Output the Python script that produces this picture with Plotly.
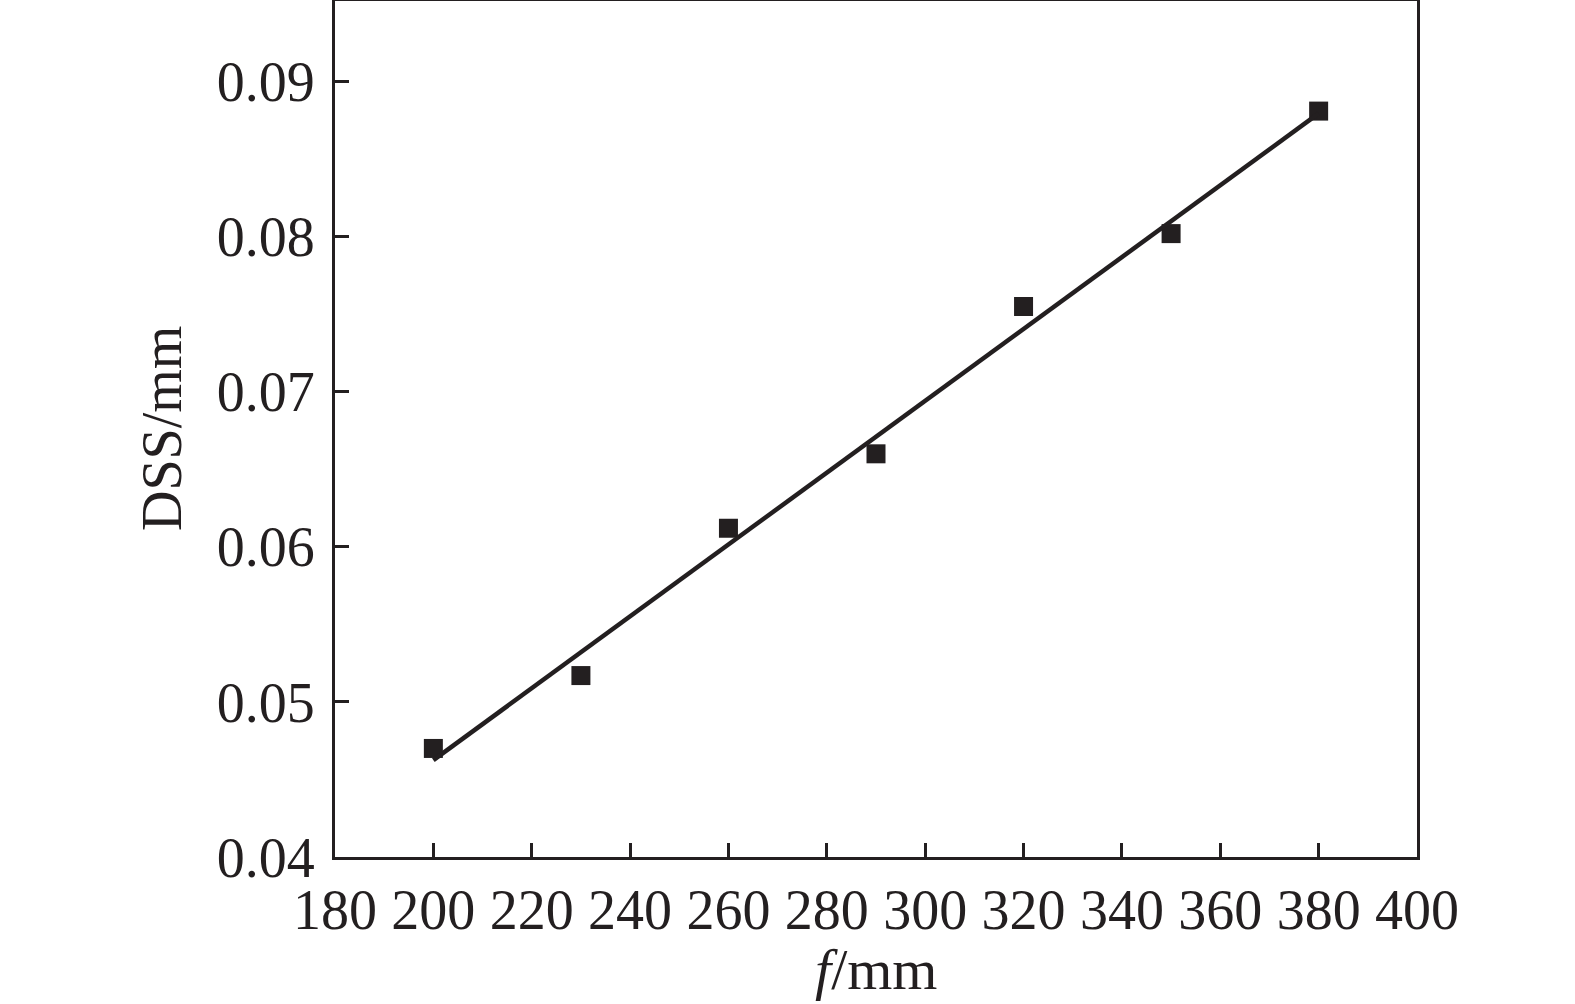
import numpy as np
import plotly.graph_objects as go

f_mm = [200, 230, 260, 290, 320, 350, 380]
dss_mm = [0.0470, 0.0517, 0.0612, 0.0660, 0.0755, 0.0802, 0.0881]

x_ticks = [180, 200, 220, 240, 260, 280, 300, 320, 340, 360, 380, 400]
y_ticks = [0.04, 0.05, 0.06, 0.07, 0.08, 0.09]
y_tick_labels = ["0.04", "0.05", "0.06", "0.07", "0.08", "0.09"]
x_title = "<i>f</i>/mm"
y_title = "DSS/mm"

slope, intercept = np.polyfit(f_mm, dss_mm, 1)
fit_x = [f_mm[0], f_mm[-1]]
fit_y = [slope * v + intercept for v in fit_x]

ink = "#231f20"
font = "Liberation Serif, Times New Roman, serif"

fig = go.Figure()
fig.add_trace(go.Scatter(x=f_mm, y=dss_mm, mode="markers",
                         marker=dict(symbol="square", size=19, color=ink,
                                     line=dict(width=0)),
                         showlegend=False))
fig.add_trace(go.Scatter(x=fit_x, y=fit_y, mode="lines",
                         line=dict(color=ink, width=4.5), showlegend=False))

fig.update_layout(
    width=1575, height=1004,
    margin=dict(l=335, r=158, t=1, b=147, autoexpand=False),
    paper_bgcolor="white", plot_bgcolor="white",
    font=dict(family=font, size=56, color=ink),
    xaxis=dict(range=[180, 400], tickvals=x_ticks, ticks="inside", ticklen=14,
               tickwidth=3, tickcolor=ink, showline=True, linewidth=3,
               linecolor=ink, mirror=True, showgrid=False, zeroline=False,
               automargin=False, ticklabelstandoff=2),
    yaxis=dict(range=[0.04, 0.0952], tickvals=y_ticks, ticktext=y_tick_labels,
               ticks="inside", ticklen=14, tickwidth=3, tickcolor=ink,
               showline=True, linewidth=3, linecolor=ink, mirror=True,
               showgrid=False, zeroline=False, automargin=False,
               ticklabelstandoff=6),
    annotations=[
        dict(text=x_title, xref="paper", yref="paper", x=0.5, y=0,
             xanchor="center", yanchor="middle", yshift=-112, showarrow=False,
             font=dict(family=font, size=58, color=ink)),
        dict(text=y_title, xref="paper", yref="paper", x=0, y=0.5,
             xanchor="center", yanchor="middle", xshift=-173, textangle=-90,
             showarrow=False, font=dict(family=font, size=56, color=ink)),
    ],
)

fig.write_html("out.html", config={"displayModeBar": False},
               post_script="document.body.style.margin='0';document.body.style.overflow='hidden';")
